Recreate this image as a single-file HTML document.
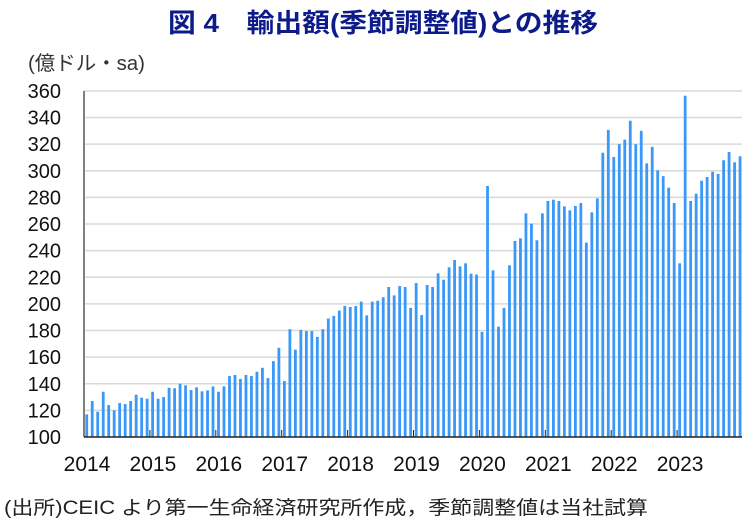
<!DOCTYPE html>
<html><head><meta charset="utf-8"><style>
body{margin:0;background:#fff;width:754px;height:523px;overflow:hidden}
svg{display:block}
text{font-family:"Liberation Sans","Noto Sans CJK JP",sans-serif}
</style></head><body>
<svg id="s" width="754" height="523" xmlns="http://www.w3.org/2000/svg">
<text x="168" y="32" font-size="26" font-weight="bold" fill="#0c1a8a" textLength="430" lengthAdjust="spacingAndGlyphs">図 4　輸出額(季節調整値)との推移</text>
<text x="28" y="70" font-size="20" fill="#333" textLength="117" lengthAdjust="spacingAndGlyphs">(億ドル・sa)</text>
<g id="g"></g>
<text x="4" y="514" font-size="19" fill="#222" textLength="644" lengthAdjust="spacingAndGlyphs">(出所)CEIC より第一生命経済研究所作成，季節調整値は当社試算</text>
</svg>
<script>
var v=[117,127,119,134,124,120,125.5,124.8,127,131.8,129.5,128.8,
134,128.8,130,137,136.6,140,138.8,135.3,137.3,134.3,135,138,
134,138,145.8,146.6,143.6,146.6,145.8,149,152,144.3,157,167,
142,181,165.6,180.4,179.6,179.6,175.2,181,189,191,195,198.4,
197.7,198.4,201.7,191.4,201.7,202.4,205,212.7,206.4,213.4,212.7,197,
215.7,191.6,214.2,212.7,223,218.2,227.5,233,228.2,230.5,222.7,222,
179,288.6,225.2,182.9,197,229,247.3,249.3,268,260.3,247.8,268,
277.3,278.3,277.3,273.3,270.3,273.6,275.8,246,268.8,279.3,313.6,330.7,
310.4,320,323.4,337.6,320,330,305.6,318,300.4,296,287.3,275.8,
230.5,356.4,277.3,282.8,292.6,295.3,299.3,297.6,307.9,314.1,306.4,310.9];
var h='',X0=84,M=5.49,Y=function(a){return 437-(a-100)*1.331;};
for(var t=100;t<=360;t+=20){var y=Y(t);
 if(t>100)h+='<line x1="84" x2="742" y1="'+y+'" y2="'+y+'" stroke="#d9d9d9" stroke-width="1.5"/>';
 h+='<text x="61" y="'+(y+7)+'" text-anchor="end" font-size="20" fill="#111">'+t+'</text>';}
for(var i=0;i<v.length;i++){var x=X0+M*(i+0.5)-1.4,y=Y(v[i]);
 h+='<rect x="'+x.toFixed(2)+'" y="'+y.toFixed(2)+'" width="2.8" height="'+(437-y).toFixed(2)+'" fill="#3a98f8"/>';}
h+='<line x1="84" x2="84" y1="91" y2="437" stroke="#808080" stroke-width="2"/>';
h+='<line x1="84" x2="742" y1="437" y2="437" stroke="#222" stroke-width="1.5"/>';
for(var k=0;k<10;k++){var x=X0+65.9*k;
 if(k>0)h+='<line x1="'+x+'" x2="'+x+'" y1="430" y2="437" stroke="#222" stroke-width="1"/>';
 h+='<text x="'+(x+3)+'" y="471" text-anchor="middle" font-size="21" fill="#111">'+(2014+k)+'</text>';}
document.getElementById('g').innerHTML=h;
</script>
</body></html>
